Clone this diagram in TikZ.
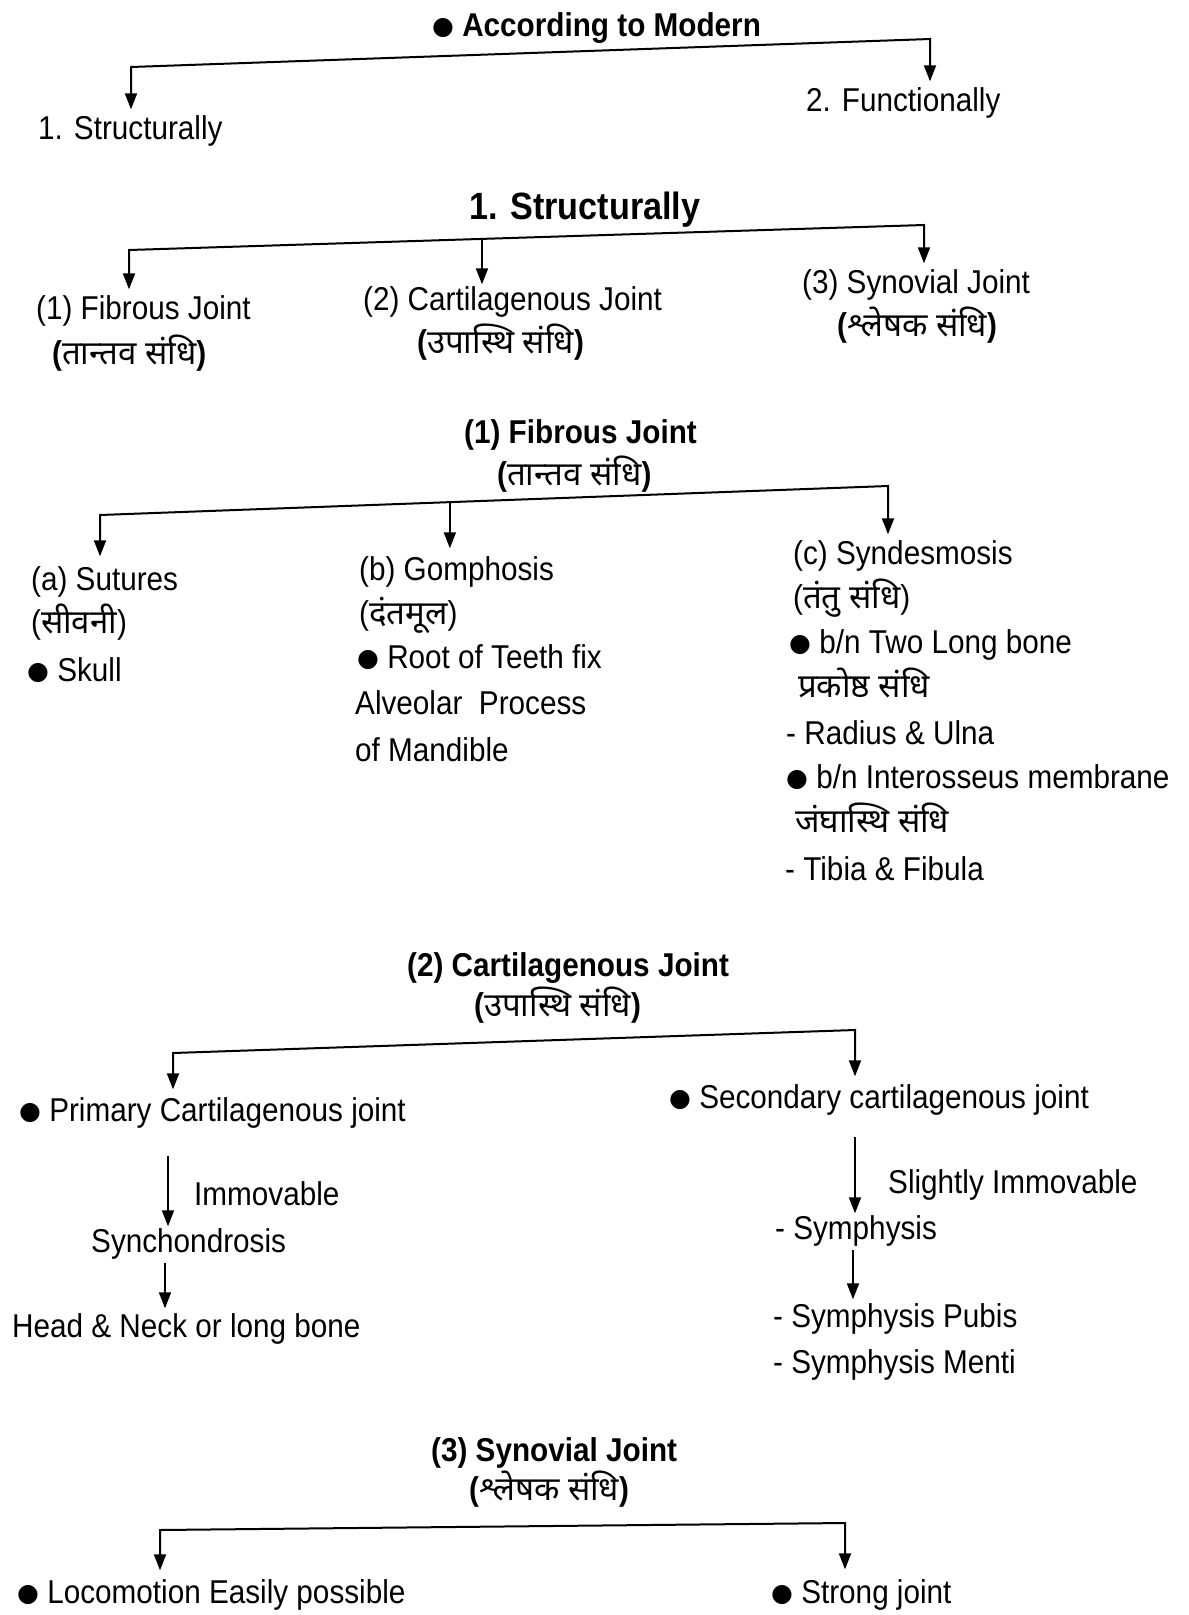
\documentclass[tikz,border=0pt]{standalone}
\usepackage{fontspec}
\setmainfont[FakeStretch=0.9]{Liberation Sans}
\newfontfamily\hindi[Script=Devanagari]{Noto Sans}
\newfontfamily\symf{DejaVu Sans}
\usetikzlibrary{arrows.meta}
\newcommand{\bul}{\raisebox{2.5pt}{\fontsize{25}{25}\symf ●}}
\begin{document}
\begin{tikzpicture}[x=1pt,y=-1pt,
  txt/.style={anchor=west,inner sep=0pt,font=\fontsize{33}{40}\selectfont,text height=24pt,text depth=7pt},
  hd/.style={txt,font=\fontsize{33}{40}\selectfont\bfseries},
  big/.style={txt,font=\fontsize{38}{44}\selectfont\bfseries},
  tree/.style={line width=2pt,{Triangle[length=16pt,width=12pt]}-{Triangle[length=16pt,width=12pt]},shorten <=6pt,shorten >=6pt},
  arr/.style={line width=1.8pt,-{Triangle[length=16pt,width=12pt]}}]
\fill[white] (0,0) rectangle (1189,1615);
\useasboundingbox (0,0) rectangle (1189,1615);

% ---------- Section 1
\node[hd] (top) at (432,28) {\bul\ According to Modern};
\node[txt] (s1) at (38,131) {1. Structurally};
\node[txt] (f2) at (806,103) {2. Functionally};
\coordinate (tl) at (131,67);
\coordinate (tr) at (930,39);
\draw[tree] (tl |- s1.north) -- (tl) -- (tr) -- (tr |- f2.north);

% ---------- Section 2
\node[big] (st) at (469,211) {1. Structurally};
\node[txt] (fib) at (36,311) {(1) Fibrous Joint};
\node[hd] (fibh) at (52,356) {({\hindi तान्तव संधि})};
\node[txt] (car) at (363,302) {(2) Cartilagenous Joint};
\node[hd] (carh) at (417,345) {({\hindi उपास्थि संधि})};
\node[txt] (syn) at (802,285) {(3) Synovial Joint};
\node[hd] (synh) at (837,328) {({\hindi श्लेषक संधि})};
\coordinate (bl2) at (129,250);
\coordinate (br2) at (924,225);
\path (bl2) -- (br2) coordinate[pos=0.444] (bm2);
\draw[tree] (bl2 |- fib.north) -- (bl2) -- (br2) -- (br2 |- syn.north);
\draw[arr,shorten >=2pt] (bm2) -- (bm2 |- car.north);

% ---------- Section 3
\node[hd] (fj) at (464,435) {(1) Fibrous Joint};
\node[hd] (fjh) at (497,477) {({\hindi तान्तव संधि})};
\coordinate (bl3) at (100,515);
\coordinate (br3) at (888,486);
\path (bl3) -- (br3) coordinate[pos=0.444] (bm3);
\node[txt] (a1) at (31,582) {(a) Sutures};
\node[txt] (a2) at (31,625) {({\hindi सीवनी})};
\node[txt] (a3) at (27,673) {\bul\ Skull};
\node[txt] (b1) at (359,572) {(b) Gomphosis};
\node[txt] (b2) at (359,616) {({\hindi दंतमूल})};
\node[txt] (b3) at (357,660) {\bul\ Root of Teeth fix};
\node[txt] (b4) at (355,706) {Alveolar\ \ Process};
\node[txt] (b5) at (355,753) {of Mandible};
\node[txt] (c1) at (793,556) {(c) Syndesmosis};
\node[txt] (c2) at (793,600) {({\hindi तंतु संधि})};
\node[txt] (c3) at (789,645) {\bul\ b/n Two Long bone};
\node[hd] (c4) at (798,689) {{\hindi प्रकोष्ठ संधि}};
\node[txt] (c5) at (786,736) {- Radius \& Ulna};
\node[txt] (c6) at (786,780) {\bul\ b/n Interosseus membrane};
\node[hd] (c7) at (795,824) {{\hindi जंघास्थि संधि}};
\node[txt] (c8) at (785,872) {- Tibia \& Fibula};
\draw[tree,shorten <=10pt] (bl3 |- a1.north) -- (bl3) -- (br3) -- (br3 |- c1.north);
\draw[arr,shorten >=8pt] (bm3) -- (bm3 |- b1.north);

% ---------- Section 4
\node[hd] (cj) at (407,968) {(2) Cartilagenous Joint};
\node[hd] (cjh) at (474,1008) {({\hindi उपास्थि संधि})};
\coordinate (bl4) at (173,1053);
\coordinate (br4) at (855,1030);
\node[txt] (pr) at (19,1113) {\bul\ Primary Cartilagenous joint};
\node[txt] (se) at (669,1100) {\bul\ Secondary cartilagenous joint};
\draw[tree,shorten <=8pt,shorten >=8pt] (bl4 |- pr.north) -- (bl4) -- (br4) -- (br4 |- se.north);
\coordinate (x1) at (168,0);
\coordinate (x2) at (165,0);
\coordinate (x3) at (855,0);
\coordinate (x4) at (853,0);
\node[txt] (im) at (194,1197) {Immovable};
\node[txt] (sy) at (91,1244) {Synchondrosis};
\node[txt] (hn) at (12,1329) {Head \& Neck or long bone};
\node[txt] (sl) at (888,1185) {Slightly Immovable};
\node[txt] (sp) at (775,1231) {- Symphysis};
\node[txt] (pu) at (773,1319) {- Symphysis Pubis};
\node[txt] (me) at (773,1365) {- Symphysis Menti};
\draw[arr,shorten <=27pt,shorten >=2pt] (x1 |- pr.south) -- (x1 |- sy.north);
\draw[arr,shorten <=3pt,shorten >=5pt] (x2 |- sy.south) -- (x2 |- hn.north);
\draw[arr,shorten <=21pt,shorten >=2pt] (x3 |- se.south) -- (x3 |- sp.north);
\draw[arr,shorten <=3pt,shorten >=4pt] (x4 |- sp.south) -- (x4 |- pu.north);

% ---------- Section 5
\node[hd] (sj) at (431,1453) {(3) Synovial Joint};
\node[hd] (sjh) at (469,1492) {({\hindi श्लेषक संधि})};
\coordinate (bl5) at (160,1530);
\coordinate (br5) at (845,1523);
\node[txt] (lo) at (17,1595) {\bul\ Locomotion Easily possible};
\node[txt] (sg) at (771,1595) {\bul\ Strong joint};
\draw[tree,shorten <=9pt,shorten >=10pt] (bl5 |- lo.north) -- (bl5) -- (br5) -- (br5 |- sg.north);
\end{tikzpicture}
\end{document}
